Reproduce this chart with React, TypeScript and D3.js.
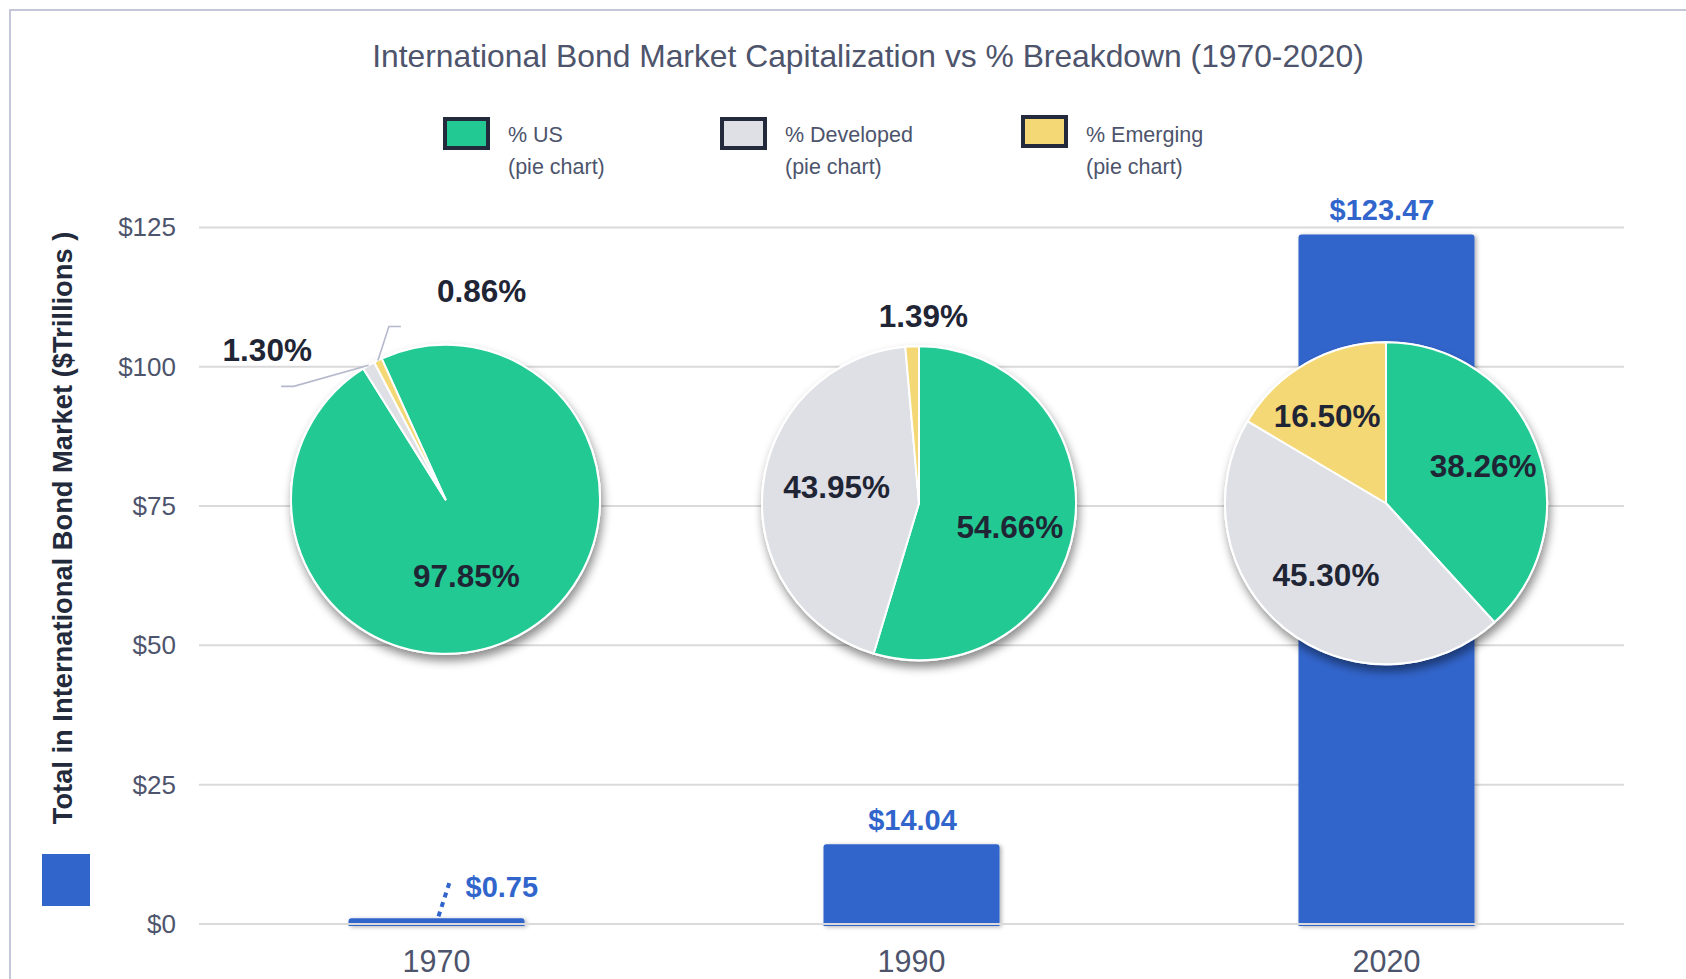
import React from 'react';
import * as d3 from 'd3';

// ---------- data ----------
const years = ['1970', '1990', '2020'];
const totals = [0.75, 14.04, 123.47];
const usPct = [97.85, 54.66, 38.26];
const developedPct = [1.3, 43.95, 45.3];
const emergingPct = [0.86, 1.39, 16.5];
const seriesNames = ['% US', '% Developed', '% Emerging'];
const yTicks = [0, 25, 50, 75, 100, 125];
const title = 'International Bond Market Capitalization vs % Breakdown (1970-2020)';
const yTitle = 'Total in International Bond Market ($Trillions )';

// ---------- style / layout ----------
const W = 1686;
const H = 979;
const sliceColors = ['#22c993', '#dee0e5', '#f5d876'];
const barColor = '#3165cc';
const textGray = '#4d546c';
const textDark = '#1f2535';
const gridColor = '#dadada';
const FONT = '"Liberation Sans", Arial, sans-serif';

// pie placement relative to its year band (layout, not data)
const pieLayout = [
  { dx: 9, cyVal: 76.2, r: 154.5, start: -24.4 },
  { dx: 7.5, cyVal: 75.5, r: 157, start: 0 },
  { dx: -0.5, cyVal: 75.5, r: 161, start: 0 },
];
// label nudges [pie][slice] in px
const labelNudge = [
  [[-24.5, -8], [-86, 11.6], [117.3, -41.5]],
  [[-5.5, 10], [14.5, -6], [12.7, 1.2]],
  [[4, -1], [3, -6], [-9.5, -1]],
];
// bar value label horizontal nudges
const barLabelDx = [0, 1, -4.5];
// leader lines for small slices [pie-slice] -> [elbow, end] offsets from slice edge
const leaders: Record<string, [number, number][]> = {
  '0-1': [[-75, 21], [-87.5, 21]],
  '0-2': [[11, -34], [23, -34]],
};

export default function App() {
  const x = d3.scaleBand<string>().domain(years).range([199, 1624]).padding(0);
  const y = d3.scaleLinear().domain([0, 125]).range([924, 227.4]);
  const barW = 176;

  const pieGen = d3.pie<number>().sort(null).value((d) => d);

  const bars = years.map((yr, i) => {
    const cx = (x(yr) as number) + x.bandwidth() / 2;
    const top = y(totals[i]) - 1.5;
    const bottom = y(0) + 2;
    const x0 = cx - barW / 2;
    const x1 = cx + barW / 2;
    const rr = Math.min(3, (bottom - top) / 2);
    const path = `M${x0},${bottom}L${x0},${top + rr}Q${x0},${top} ${x0 + rr},${top}L${x1 - rr},${top}Q${x1},${top} ${x1},${top + rr}L${x1},${bottom}Z`;
    return { cx, top, path, i };
  });

  const fmtMoney = (v: number) => '$' + v.toFixed(2);
  const fmtPct = (v: number) => v.toFixed(2) + '%';

  return (
    <svg
      width={W}
      height={H}
      style={{ position: 'absolute', left: 0, top: 0, background: '#fff' }}
      fontFamily={FONT}
    >
      <defs>
        <filter id="pieShadow" x="-20%" y="-20%" width="140%" height="150%">
          <feDropShadow dx="2" dy="6" stdDeviation="5" floodColor="#000" floodOpacity="0.45" />
        </filter>
        <filter id="barShadow" x="-10%" y="-10%" width="120%" height="120%">
          <feDropShadow dx="2" dy="1" stdDeviation="2" floodColor="#000" floodOpacity="0.3" />
        </filter>
      </defs>

      {/* frame */}
      <rect x={10} y={10} width={W} height={H + 20} fill="none" stroke="#c4c7d7" strokeWidth={2} />

      {/* title */}
      <text x={868} y={67} textAnchor="middle" fontSize={31.8} fill={textGray}>
        {title}
      </text>

      {/* legend */}
      {seriesNames.map((name, i) => {
        const lx = [445, 722, 1023][i];
        const ly = [119, 119, 117][i];
        return (
          <g key={name}>
            <rect x={lx} y={ly} width={43} height={29} fill={sliceColors[i]} stroke="#232a3b" strokeWidth={4} />
            <text x={lx + 63} y={142} fontSize={21.5} fill={textGray}>
              {name}
            </text>
            <text x={lx + 63} y={174} fontSize={21.5} fill={textGray}>
              (pie chart)
            </text>
          </g>
        );
      })}

      {/* grid + y ticks */}
      {yTicks.map((t) => (
        <g key={t}>
          {t !== 0 && <line x1={199} x2={1624} y1={y(t)} y2={y(t)} stroke={gridColor} strokeWidth={2} />}
          <text x={176} y={y(t)} textAnchor="end" dominantBaseline="central" fontSize={26} fill={textGray}>
            ${t}
          </text>
        </g>
      ))}

      {/* y axis title */}
      <text
        transform={`translate(62,528) rotate(-90)`}
        textAnchor="middle"
        dominantBaseline="central"
        fontSize={27.3}
        fontWeight="bold"
        fill="#232a3b"
      >
        {yTitle}
      </text>
      <rect x={42} y={854} width={48} height={52} fill={barColor} />

      {/* bars */}
      <g filter="url(#barShadow)">
        {bars.map((b) => (
          <path key={b.i} d={b.path} fill={barColor} />
        ))}
      </g>
      <line x1={199} x2={1624} y1={y(0)} y2={y(0)} stroke={gridColor} strokeWidth={2} />

      {/* bar value labels */}
      {bars.map((b) => {
        const v = totals[b.i];
        if (v < 5) {
          return (
            <g key={'bl' + b.i}>
              <line
                x1={b.cx + 2}
                y1={b.top - 2}
                x2={b.cx + 13}
                y2={b.top - 36}
                stroke={barColor}
                strokeWidth={4}
                strokeDasharray="5,5"
              />
              <text x={b.cx + 29} y={b.top - 21} fontSize={29} fontWeight="bold" fill={barColor}>
                {fmtMoney(v)}
              </text>
            </g>
          );
        }
        return (
          <text
            key={'bl' + b.i}
            x={b.cx + barLabelDx[b.i]}
            y={b.top - 14}
            textAnchor="middle"
            fontSize={29}
            fontWeight="bold"
            fill={barColor}
          >
            {fmtMoney(v)}
          </text>
        );
      })}

      {/* x labels */}
      {years.map((yr) => (
        <text
          key={yr}
          x={(x(yr) as number) + x.bandwidth() / 2}
          y={972}
          textAnchor="middle"
          fontSize={30.5}
          fill={textGray}
        >
          {yr}
        </text>
      ))}

      {/* pies */}
      {years.map((yr, i) => {
        const L = pieLayout[i];
        const cx = (x(yr) as number) + x.bandwidth() / 2 + L.dx;
        const cy = y(L.cyVal);
        const startRad = (L.start * Math.PI) / 180;
        const vals = [usPct[i], developedPct[i], emergingPct[i]];
        const arcs = pieGen.startAngle(startRad).endAngle(startRad + 2 * Math.PI)(vals);
        const arcGen = d3.arc<d3.PieArcDatum<number>>().innerRadius(0).outerRadius(L.r);
        return (
          <g key={'pie' + yr}>
            <g transform={`translate(${cx},${cy})`} filter="url(#pieShadow)">
              <circle r={L.r + 1} fill="#fff" />
              {arcs.map((a, j) => (
                <path key={j} d={arcGen(a) as string} fill={sliceColors[j]} stroke="#fff" strokeWidth={2} strokeLinejoin="round" />
              ))}
            </g>
            {arcs.map((a, j) => {
              const mid = (a.startAngle + a.endAngle) / 2;
              const small = vals[j] < 5;
              const f = small ? 1.2 : 0.62;
              const lx = cx + f * L.r * Math.sin(mid) + labelNudge[i][j][0];
              const ly = cy - f * L.r * Math.cos(mid) + labelNudge[i][j][1];
              const key = `${i}-${j}`;
              const leader = leaders[key];
              let leaderEl = null;
              if (leader) {
                const sx = cx + L.r * Math.sin(mid);
                const sy = cy - L.r * Math.cos(mid);
                const pts = [[sx, sy], ...leader.map(([ox, oy]) => [sx + ox, sy + oy])];
                leaderEl = (
                  <polyline
                    points={pts.map((p) => p.join(',')).join(' ')}
                    fill="none"
                    stroke="#b5b9cb"
                    strokeWidth={1.6}
                  />
                );
              }
              return (
                <g key={'lab' + key}>
                  {leaderEl}
                  <text x={lx} y={ly} textAnchor="middle" dominantBaseline="central" fontSize={31.5} fontWeight="bold" fill={textDark}>
                    {fmtPct(vals[j])}
                  </text>
                </g>
              );
            })}
          </g>
        );
      })}
    </svg>
  );
}
